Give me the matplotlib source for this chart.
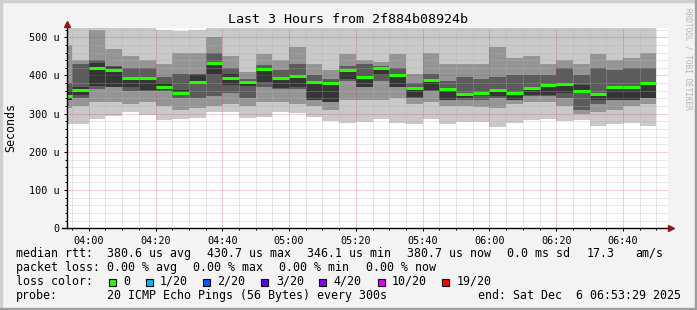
import matplotlib
matplotlib.use("Agg")
import matplotlib.pyplot as plt
from matplotlib.patches import Rectangle
from matplotlib.lines import Line2D
from matplotlib.ticker import MultipleLocator, FixedLocator, FuncFormatter
import pandas as pd

# smokeping style rtt graph, 20 pings every 300s, values in microseconds
bar_times = pd.date_range("2025-12-06 03:50", periods=36, freq="5min")
t_start = pd.Timestamp("2025-12-06 03:53:29")
t_end = pd.Timestamp("2025-12-06 06:53:29")

median_us = [347, 362, 420, 413, 393, 394, 371, 355, 384, 433, 393, 384,
             418, 394, 398, 384, 379, 413, 395, 419, 402, 367, 387, 364,
             352, 355, 362, 355, 368, 375, 377, 359, 352, 370, 370, 381]
ping_max = [526, 526, 524, 526, 526, 526, 518, 516, 520, 526, 526, 526,
            526, 526, 526, 526, 526, 526, 526, 526, 526, 526, 526, 526,
            526, 526, 526, 526, 526, 526, 526, 526, 526, 526, 526, 526]
upper_mid = [480, 440, 520, 470, 450, 440, 430, 460, 460, 500, 450, 410,
             455, 440, 475, 430, 415, 455, 440, 435, 455, 405, 460, 430,
             430, 430, 475, 445, 450, 430, 440, 430, 455, 440, 445, 460]
upper_in = [380, 430, 440, 425, 420, 420, 395, 405, 405, 460, 420, 390,
            428, 415, 430, 400, 390, 425, 430, 425, 420, 380, 405, 385,
            395, 390, 395, 400, 400, 400, 420, 400, 420, 415, 420, 420]
core_hi = [360, 370, 432, 423, 396, 396, 380, 362, 400, 436, 405, 386,
           420, 396, 400, 386, 381, 415, 397, 421, 404, 369, 389, 366,
           354, 358, 364, 357, 370, 377, 379, 375, 354, 372, 372, 383]
core_lo = [335, 348, 372, 370, 370, 362, 362, 348, 379, 405, 375, 372,
           383, 366, 370, 335, 331, 392, 370, 405, 370, 344, 362, 335,
           340, 345, 346, 335, 348, 348, 353, 356, 335, 335, 335, 340]
lower_in = [335, 340, 365, 370, 360, 360, 360, 340, 340, 345, 355, 340,
            370, 365, 365, 335, 330, 385, 370, 385, 370, 340, 360, 335,
            335, 335, 340, 335, 345, 345, 340, 310, 325, 335, 335, 340]
lower_mid = [315, 320, 330, 330, 325, 330, 320, 310, 315, 320, 325, 320,
             330, 330, 325, 320, 310, 335, 335, 335, 340, 325, 330, 320,
             320, 318, 315, 325, 330, 330, 320, 300, 305, 310, 320, 325]
ping_min = [272, 274, 285, 295, 305, 296, 284, 285, 288, 305, 305, 288,
            292, 305, 302, 290, 280, 275, 278, 287, 276, 274, 287, 274,
            278, 278, 266, 276, 283, 285, 280, 284, 268, 274, 276, 268]

loss_labels = ["0", "1/20", "2/20", "3/20", "4/20", "10/20", "19/20"]
loss_colors = ["#26ff00", "#00b8ff", "#0059ff", "#5e00ff", "#7e00ff", "#dd00ff", "#ff0000"]

W, H = 697, 310
mono = "DejaVu Sans Mono"
plt.rcParams["font.family"] = mono


def fpos(x, y):
    return x / W, 1 - y / H


def minutes(t):
    return t.hour * 60 + t.minute + t.second / 60.0


fig = plt.figure(figsize=(W / 100, H / 100), dpi=100, facecolor="#f3f3f3")

# rrdtool frame shading
fig.patches.append(Rectangle((0, 1 - 2 / H), 1, 2 / H, transform=fig.transFigure, color="#cfcfcf", zorder=0))
fig.patches.append(Rectangle((0, 0), 2 / W, 1, transform=fig.transFigure, color="#cfcfcf", zorder=0))
fig.patches.append(Rectangle((0, 0), 1, 2 / H, transform=fig.transFigure, color="#9e9e9e", zorder=0))
fig.patches.append(Rectangle((1 - 2 / W, 0), 2 / W, 1, transform=fig.transFigure, color="#9e9e9e", zorder=0))

left, right, bottom, top = 67, 668, 228.3, 27.7
ax = fig.add_axes([left / W, 1 - bottom / H, (right - left) / W, (bottom - top) / H])
ax.set_facecolor("white")

x0 = [minutes(t) for t in bar_times]
step = 5


def band(lo, hi, color):
    ax.bar(x0, [h - l for l, h in zip(lo, hi)], bottom=lo, width=step, align="edge",
           color=color, linewidth=0, zorder=1)


# smoke, outermost pings first
band(ping_min, ping_max, "#c9c9c9")
band(lower_mid, upper_mid, "#959595")
band(lower_in, upper_in, "#5c5c5c")
band(core_lo, core_hi, "#353535")
ax.hlines(median_us, x0, [x + step for x in x0], colors="#26ff00", linewidth=2.2, zorder=4)

ax.set_xlim(minutes(t_start), minutes(t_start) + (t_end - t_start).total_seconds() / 60)
ax.set_ylim(0, 525)

ax.xaxis.set_major_locator(FixedLocator(range(240, 420, 20)))
ax.xaxis.set_minor_locator(FixedLocator(range(235, 415, 5)))
ax.xaxis.set_major_formatter(FuncFormatter(lambda v, p: "%02d:%02d" % (int(v) // 60, int(v) % 60)))
ax.yaxis.set_major_locator(MultipleLocator(100))
ax.yaxis.set_minor_locator(MultipleLocator(20))
ax.yaxis.set_major_formatter(FuncFormatter(lambda v, p: "0" if v == 0 else "%d u" % v))

ax.set_axisbelow(False)
ax.grid(which="minor", color="#b0b0b0", alpha=0.6, linestyle=(0, (1, 1)), linewidth=0.72)
ax.grid(which="major", color="#d04040", alpha=0.5, linestyle=(0, (1, 1)), linewidth=0.72)

for s in ["top", "right"]:
    ax.spines[s].set_visible(False)
for s in ["left", "bottom"]:
    ax.spines[s].set_color("black")
    ax.spines[s].set_linewidth(1.0)
    ax.spines[s].set_zorder(5)

ax.tick_params(axis="both", which="major", labelsize=7.3, length=2, width=0.72, color="black")
ax.tick_params(axis="both", which="minor", length=1.5, width=0.72, color="black")
ax.tick_params(axis="x", which="major", pad=3.2)
ax.tick_params(axis="y", which="major", pad=3.3)

# axis extension and arrows
fig.add_artist(Line2D([62 / W, left / W], [1 - bottom / H] * 2, color="black", linewidth=1.0))
fig.add_artist(Line2D([right / W, 670 / W], [1 - bottom / H] * 2, color="black", linewidth=1.0))
fig.add_artist(Line2D([left / W], [1 - 24 / H], marker="^", markersize=4, color="#8b1a1a", linestyle=""))
fig.add_artist(Line2D([671 / W], [1 - bottom / H], marker=">", markersize=4, color="#8b1a1a", linestyle=""))

fig.text(*fpos(348, 23), "Last 3 Hours from 2f884b08924b", fontsize=9.6, ha="center", va="baseline")
fig.text(*fpos(11, 128), "Seconds", fontsize=8.4, rotation=90, ha="center", va="center")
fig.text(*fpos(688, 59), "RRDTOOL / TOBI OETIKER", fontsize=5.6, rotation=270,
         ha="center", va="center", color="#b4b4b4")

rows = [
    (257, [("median rtt:", 16), ("380.6 us avg", 107), ("430.7 us max", 207), ("346.1 us min", 307),
           ("380.7 us now", 407), ("0.0 ms sd", 507), ("17.3", 587), ("am/s", 635)]),
    (271, [("packet loss:", 16), ("0.00 % avg", 107), ("0.00 % max", 193), ("0.00 % min", 279),
           ("0.00 % now", 366)]),
    (285, [("loss color:", 16)]),
    (299, [("probe:", 16), ("20 ICMP Echo Pings (56 Bytes) every 300s", 107),
           ("end: Sat Dec  6 06:53:29 2025", 478)]),
]
for y, items in rows:
    for txt, x in items:
        fig.text(*fpos(x, y), txt, fontsize=8.4, ha="left", va="baseline")

box_x = [109, 146, 203, 261, 319, 378, 442]
lab_x = [123, 160, 217, 276, 333, 392, 457]
for bx, lx, lab, col in zip(box_x, lab_x, loss_labels, loss_colors):
    fig.patches.append(Rectangle((bx / W, 1 - 286 / H), 7 / W, 7 / H, transform=fig.transFigure,
                                 facecolor=col, edgecolor="black", linewidth=0.8))
    fig.text(*fpos(lx, 285), lab, fontsize=8.4, ha="left", va="baseline")

fig.savefig("out.png", dpi=100, facecolor=fig.get_facecolor())
